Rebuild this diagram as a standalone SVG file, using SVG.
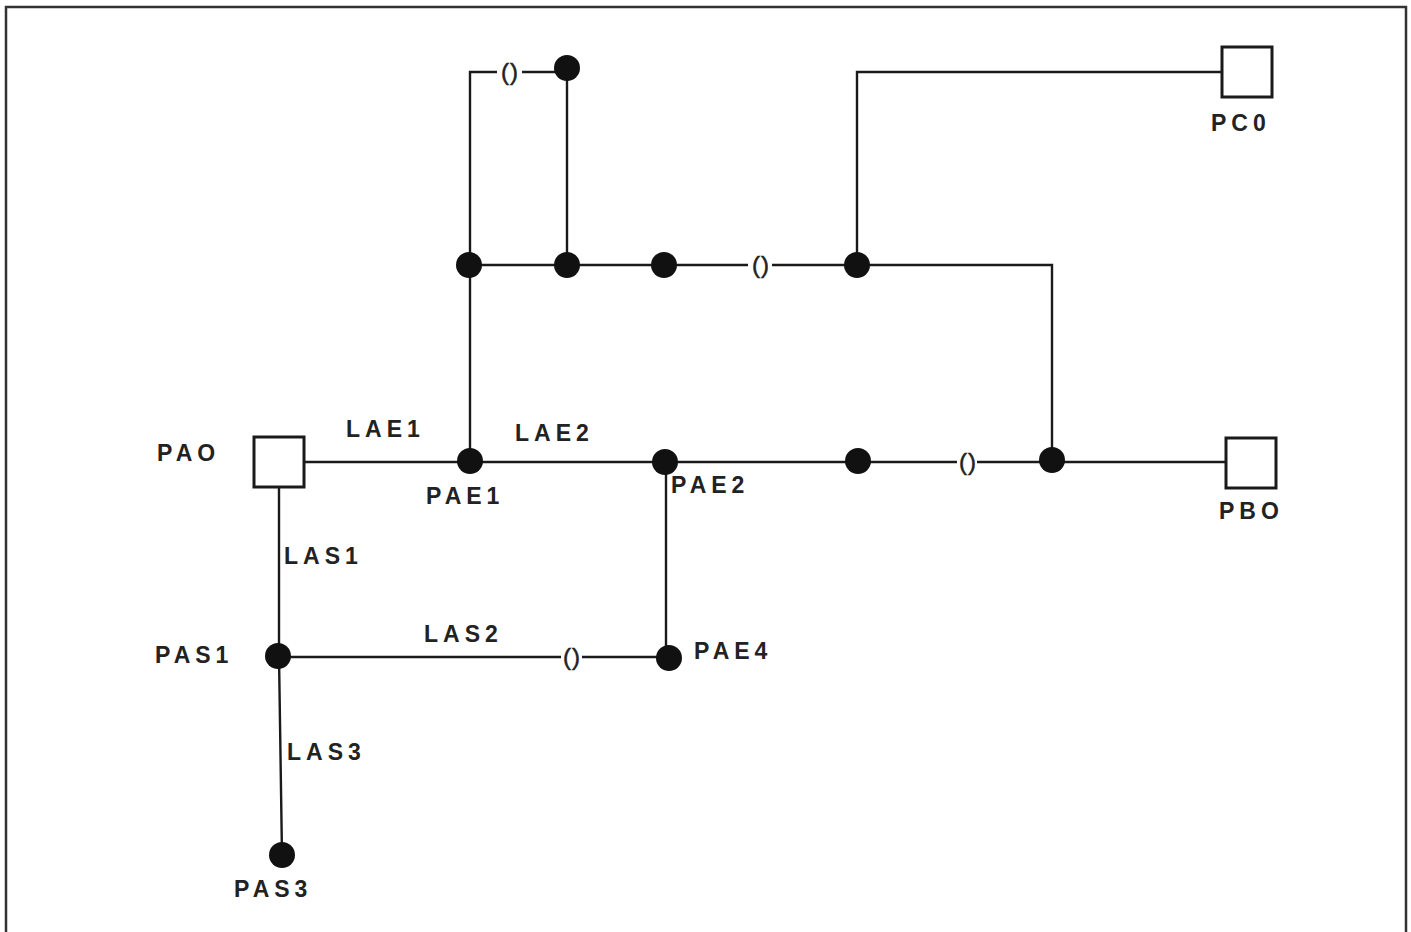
<svg xmlns="http://www.w3.org/2000/svg" width="1411" height="932" viewBox="0 0 1411 932">
<style>
.ln{fill:none;stroke:#1a1a1a;stroke-width:2.4}
.dot{fill:#111}
.port{fill:#fff;stroke:#1a1a1a;stroke-width:3}
.lbl{font-family:"Liberation Sans",Arial,sans-serif;font-weight:bold;font-size:23px;letter-spacing:5px;fill:#222}
.par{font-family:"Liberation Sans",Arial,sans-serif;font-size:24px;letter-spacing:1px;fill:#222;stroke:#222;stroke-width:0.5;text-anchor:middle}
</style>
<rect x="0" y="0" width="1411" height="932" fill="#fff"/>
<rect x="6" y="7" width="1400" height="935" fill="none" stroke="#333" stroke-width="2.5"/>
<g id="connectors">
<path class="ln" d="M304 462 H957 M977 462 H1226"/>
<path class="ln" d="M470 461 V265"/>
<path class="ln" d="M469 265 H748 M772 265 H1052 V460"/>
<path class="ln" d="M857 265 V72 H1222"/>
<path class="ln" d="M567 68 V265"/>
<path class="ln" d="M470 265 V72 H497 M522 72 H567"/>
<path class="ln" d="M279 487 V656 L282 855"/>
<path class="ln" d="M279 657 H561 M582 657 H669"/>
<path class="ln" d="M666 462 V658"/>
<text class="par" x="510" y="80">()</text>
<text class="par" x="761" y="273">()</text>
<text class="par" x="968" y="470">()</text>
<text class="par" x="572" y="665">()</text>
</g>
<g id="PAO"><rect class="port" x="254" y="437" width="50" height="50"/><text class="lbl" x="157" y="461">PAO</text></g>
<g id="PC0"><rect class="port" x="1222" y="47" width="50" height="50"/><text class="lbl" x="1211" y="131">PC0</text></g>
<g id="PBO"><rect class="port" x="1226" y="438" width="50" height="50"/><text class="lbl" x="1219" y="519">PBO</text></g>
<g id="PAE1"><circle class="dot" cx="470" cy="461" r="13"/><text class="lbl" x="426" y="504">PAE1</text></g>
<g id="PAE2"><circle class="dot" cx="665" cy="462" r="13"/><text class="lbl" x="671" y="493">PAE2</text></g>
<g id="PAE4"><circle class="dot" cx="669" cy="658" r="13"/><text class="lbl" x="694" y="659">PAE4</text></g>
<g id="PAS1"><circle class="dot" cx="278" cy="656" r="13"/><text class="lbl" x="155" y="663">PAS1</text></g>
<g id="PAS3"><circle class="dot" cx="282" cy="855" r="13"/><text class="lbl" x="234" y="897">PAS3</text></g>
<g id="N1"><circle class="dot" cx="858" cy="461" r="13"/></g>
<g id="N2"><circle class="dot" cx="1052" cy="460" r="13"/></g>
<g id="N3"><circle class="dot" cx="469" cy="265" r="13"/></g>
<g id="N4"><circle class="dot" cx="567" cy="265" r="13"/></g>
<g id="N5"><circle class="dot" cx="664" cy="265" r="13"/></g>
<g id="N6"><circle class="dot" cx="857" cy="265" r="13"/></g>
<g id="N7"><circle class="dot" cx="567" cy="68" r="13"/></g>
<g id="labels">
<text class="lbl" x="346" y="437">LAE1</text>
<text class="lbl" x="515" y="441">LAE2</text>
<text class="lbl" x="284" y="564">LAS1</text>
<text class="lbl" x="424" y="642">LAS2</text>
<text class="lbl" x="287" y="760">LAS3</text>
</g>
</svg>
